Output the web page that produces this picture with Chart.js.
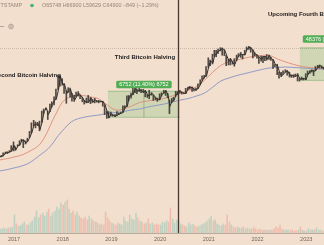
<!DOCTYPE html>
<html><head><meta charset="utf-8">
<script src="https://cdn.jsdelivr.net/npm/chart.js@4.4.1/dist/chart.umd.min.js"></script>
<style>html,body{margin:0;padding:0;background:#f2dfcd;overflow:hidden}#wrap{width:324px;height:245px;position:relative}</style>
</head><body><div id="wrap"><canvas id="c" width="324" height="245"></canvas></div>
<script>
// ---- DATA ----
// semimonthly candles (USD), starting 2016-09-15, then 1st & 15th of each month until 2023-05-15
const firstDate = '2016-09-15';
const lastMonth = '2023-05';
const closes = [
  610,615,640,730,710,750,780,
  1000,820,980,1010,1220,1250,1090,1180,1420,1720,2400,2450,2500,1950,2750,4200,4900,3700,4400,5700,6700,7300,10900,19000,
  13500,13600,9100,10200,10900,8200,6900,8000,9200,8500,7500,6500,6300,6300,7600,6300,7000,6500,6600,6500,6350,5600,4200,3250,
  3800,3600,3450,3600,3800,3900,4100,5100,5300,8000,8500,8800,11800,10200,10400,10300,9600,10300,8300,8400,9200,8500,7400,7100,
  7200,8800,9400,10300,8500,5300,6600,6900,8800,9300,10200,9400,9200,9200,11800,11800,11900,10800,10600,11500,13700,16000,19000,19400,
  29000,36800,33500,48000,49600,56000,59000,63000,57800,46400,36700,40000,33500,31800,39900,47000,48800,48100,48200,61500,66000,63500,57000,48900,
  47300,43100,38700,44500,44400,39700,46300,40500,38500,31300,29800,22600,19300,20800,23300,24100,20100,19700,19300,19100,20500,16900,17000,17300,
  16600,20900,23700,24300,23600,24700,28500,30300,28000,27000
];
const lows = [
  600,605,630,690,705,740,770,
  780,800,960,995,1180,900,1050,1160,1400,1700,2300,2100,2300,1850,2650,3900,4600,3000,4200,5100,5600,7100,10800,12500,
  13000,9200,6000,9600,7800,6600,6500,7900,8200,7300,6400,5800,6100,6250,5900,6200,6100,6300,6100,6350,5300,3700,3150,3200,
  3500,3450,3380,3550,3700,3850,4050,4900,5250,6800,7500,8700,9500,9100,10000,9500,9500,7900,7700,7300,8500,6800,7000,6500,
  6900,8200,9200,8400,7600,3850,6200,6600,8100,8600,9300,8900,9000,9100,10700,11100,10000,10200,10400,11200,13200,15900,17600,19000,
  28000,30000,32300,45000,44000,50500,56500,47000,46000,30000,31000,31000,32000,29300,37500,43900,42800,40000,47500,59000,60000,53500,42000,45500,
  41300,33000,36500,34300,37200,38100,39400,37600,26700,28700,20500,17600,18800,20700,22700,20000,18500,18200,18200,18800,15600,15500,16700,16300,
  16500,20400,21500,22800,19600,24000,27200,27000,26900,25800
];
const highs = [
  625,645,720,745,755,790,980,
  1150,930,1020,1210,1290,1260,1200,1350,1800,2600,2900,2700,2650,2800,4300,4700,4950,4300,5800,6400,7900,11000,19700,19700,
  17200,14000,10300,11700,11500,9200,8500,9700,9900,8600,7800,6800,7500,8400,7700,7100,7400,6800,6750,6600,6550,5650,4300,4200,
  4100,3700,3700,4200,3950,4100,5400,5400,8300,8400,9300,13800,12800,10800,12300,10950,10900,10400,8600,10500,9500,8600,7800,7500,
  9000,9400,10500,10400,9200,6900,7400,7800,10000,9900,10400,9800,9400,11400,12000,12400,12050,11100,11500,13800,16400,19400,19900,29000,
  42000,38000,49000,58000,58000,61000,64800,64000,59500,46500,39500,41000,36000,40500,47000,50500,52900,48500,58000,67000,69000,66000,59000,52000,
  48000,43500,45500,44800,45000,48200,47400,42900,39000,31500,31900,22800,22500,24200,25200,24300,22700,20300,20400,21000,21400,17300,18400,17600,
  21300,23900,24300,25200,24800,29000,30500,30900,29800,28400
];
// volume (thousand BTC, estimated)
const volumes = [
  4,4,5,4,5,5,6,
  18,9,7,7,9,11,8,8,10,12,16,22,15,18,20,17,21,24,17,20,22,26,24,30,
  28,31,33,24,20,22,18,21,17,15,14,16,13,17,14,12,11,10,8,9,8,21,15,12,
  10,9,8,10,9,8,16,12,11,18,14,13,20,15,12,11,9,10,14,9,10,8,9,8,
  8,11,10,12,11,25,14,10,13,12,9,8,7,6,10,8,9,7,6,7,8,9,10,12,
  14,17,12,13,9,8,7,9,8,18,11,8,6,5,6,5,5,6,4,5,4,4,6,4,
  3,4,3,3,3,3,3,3,4,6,5,8,4,3,3,3,3,3,2,2,3,6,3,2,
  2,4,3,3,3,5,3,3,2,2
];
// moving averages
const maDates = ['2016-09-15','2016-11-15','2017-01-01','2017-03-01','2017-05-01','2017-07-01','2017-08-15','2017-09-15','2017-10-15','2017-11-15','2017-12-15','2018-01-15','2018-02-15','2018-04-01','2018-06-01','2018-08-01','2018-10-01','2018-12-01','2019-02-01','2019-04-01','2019-06-01','2019-08-01','2019-10-01','2019-12-01','2020-02-01','2020-04-01','2020-06-01','2020-08-01','2020-10-01','2020-12-01','2021-02-01','2021-04-01','2021-06-01','2021-08-01','2021-10-01','2021-12-01','2022-02-01','2022-04-01','2022-06-01','2022-08-01','2022-10-01','2022-12-01','2023-02-01','2023-04-01','2023-05-20'];
const maRed = [530,565,602,656,779,965,1359,1914,2813,3962,5579,6910,7691,8378,8378,7858,7211,5579,4505,4700,5345,6209,6620,6910,7370,8200,9325,10380,12315,16265,22900,30250,35910,38280,41700,44460,46410,46410,39960,35150,31570,28980,27770,27180,27180];
const maBlue = [331,353,377,410,476,616,746,867,1051,1359,1683,2041,2474,2940,3268,3480,3640,3877,4047,4224,4505,4700,5121,5461,5820,6343,6910,7370,8200,9325,12054,15580,17700,19720,21480,23400,25490,27180,27770,28360,27770,27180,26610,26040,26040];
const yearTicks = [2017,2018,2019,2020,2021,2022,2023];
const header = {exchange:'BITSTAMP', ohlc:'O65748 H66900 L59629 C64900 \u2212849 (\u22121.29%)'};
const lastPrice = 64900;
const halvingDate = '2020-05-11';
const ranges = [
  {from:'2018-12-06', to:'2020-05-29', low:3300, high:10052, label:'6752 (11.40%) 6752', gap:3, center:true},
  {from:'2022-11-14', to:'2023-12-01', low:16000, high:64376, label:'48376 (302.35%) 48376', gap:5, center:false}
];
const notes = [
  {text:'Second Bitcoin Halving', date:'2017-12-18', price:20140, align:'right'},
  {text:'Third Bitcoin Halving', date:'2019-09-09', price:43520, align:'center'},
  {text:'Upcoming Fourth Bitcoin Halving', date:'2022-03-20', price:274200, align:'left'}
];

// ---- helpers ----
function toYear(s){const p=s.split('-').map(Number);const t0=Date.UTC(p[0],0,1),t1=Date.UTC(p[0]+1,0,1);return p[0]+(Date.UTC(p[0],p[1]-1,p[2]||1)-t0)/(t1-t0);}
const dates=[firstDate];
{let [y,m]=firstDate.split('-').map(Number);const [ly,lm]=lastMonth.split('-').map(Number);
 m++; if(m>12){m=1;y++;}
 while(y<ly||(y===ly&&m<=lm)){const mm=String(m).padStart(2,'0');dates.push(y+'-'+mm+'-01');dates.push(y+'-'+mm+'-15');m++;if(m>12){m=1;y++;}}}
const xs=dates.map(toYear);
const pricePts=closes.map((v,i)=>({x:xs[i],y:v}));
const wickPts=lows.map((v,i)=>({x:xs[i],y:[v,highs[i]]}));
const volPts=volumes.map((v,i)=>({x:xs[i],y:v}));
const volColors=closes.map((v,i)=>(i===0||v>=closes[i-1])?'rgba(38,166,154,0.24)':'rgba(239,83,80,0.24)');
const redPts=maRed.map((v,i)=>({x:toYear(maDates[i]),y:v}));
const bluePts=maBlue.map((v,i)=>({x:toYear(maDates[i]),y:v}));

const FONT='"Liberation Sans", Arial, sans-serif';
const BG='#f2dfcd';

const bgPlugin={id:'bg',beforeDraw(c){const g=c.ctx;g.save();g.fillStyle=BG;g.fillRect(0,0,c.width,c.height);g.restore();}};

function rr(g,x,y,w,h,r){g.beginPath();g.moveTo(x+r,y);g.lineTo(x+w-r,y);g.quadraticCurveTo(x+w,y,x+w,y+r);g.lineTo(x+w,y+h-r);g.quadraticCurveTo(x+w,y+h,x+w-r,y+h);g.lineTo(x+r,y+h);g.quadraticCurveTo(x,y+h,x,y+h-r);g.lineTo(x,y+r);g.quadraticCurveTo(x,y,x+r,y);g.closePath();}

const boxPlugin={id:'boxes',beforeDatasetsDraw(c){
  const g=c.ctx,xS=c.scales.x,yS=c.scales.y,a=c.chartArea;
  g.save();g.beginPath();g.rect(a.left,a.top,a.right-a.left,a.bottom-a.top);g.clip();
  const ly=Math.round(yS.getPixelForValue(lastPrice))+0.5;
  g.strokeStyle='rgba(150,130,115,0.4)';g.lineWidth=1;g.setLineDash([1,1]);
  g.beginPath();g.moveTo(a.left,ly);g.lineTo(a.right,ly);g.stroke();g.setLineDash([]);
  ranges.forEach(r=>{
    const x1=xS.getPixelForValue(toYear(r.from)),x2=xS.getPixelForValue(toYear(r.to));
    const y1=yS.getPixelForValue(r.high),y2=yS.getPixelForValue(r.low);
    g.fillStyle='rgba(76,175,80,0.20)';g.fillRect(x1,y1,x2-x1,y2-y1);
    g.strokeStyle='rgba(76,160,80,0.55)';g.lineWidth=0.8;
    g.beginPath();g.moveTo(x1,y1);g.lineTo(x2,y1);g.moveTo(x1,y2);g.lineTo(x2,y2);g.stroke();
    const cx=(x1+x2)/2;
    g.strokeStyle='rgba(90,140,95,0.6)';g.beginPath();g.moveTo(cx,y1);g.lineTo(cx,y2);g.stroke();
  });
  g.restore();
},
afterDatasetsDraw(c){
  const g=c.ctx,xS=c.scales.x,yS=c.scales.y,a=c.chartArea;
  g.save();
  const hx=Math.round(xS.getPixelForValue(toYear(halvingDate)))+0.5;
  g.strokeStyle='#4a3830';g.lineWidth=1.3;g.beginPath();g.moveTo(hx,0);g.lineTo(hx,a.bottom);g.stroke();
  g.font='5.5px '+FONT;g.textBaseline='middle';
  ranges.forEach(r=>{
    const x1=xS.getPixelForValue(toYear(r.from)),x2=xS.getPixelForValue(toYear(r.to));
    const y1=yS.getPixelForValue(r.high);
    const tw=g.measureText(r.label).width+6,h=7.5;
    const lx=r.center?(x1+x2)/2-tw/2:x1+3;
    const ty=y1-r.gap-h;
    g.fillStyle='#52ad55';rr(g,lx,ty,tw,h,1.5);g.fill();
    g.fillStyle='#ffffff';g.textAlign='left';g.fillText(r.label,lx+3,ty+h/2+0.3);
  });
  g.font='bold 6px '+FONT;g.fillStyle='#1c1a19';
  notes.forEach(n=>{g.textAlign=n.align;g.fillText(n.text,xS.getPixelForValue(toYear(n.date)),yS.getPixelForValue(n.price));});
  g.font='5.4px '+FONT;g.textBaseline='middle';g.fillStyle='#93867c';
  g.textAlign='right';g.fillText(header.exchange,22,5.5);
  g.fillStyle='#3cb371';g.beginPath();g.arc(32,5.5,1.8,0,Math.PI*2);g.fill();
  g.fillStyle='#93867c';g.textAlign='left';g.fillText(header.ohlc,42,5.5);
  g.strokeStyle='#a3968c';g.lineWidth=0.8;g.beginPath();g.moveTo(0,26.5);g.lineTo(4,26.5);g.stroke();
  g.beginPath();g.arc(11,26.5,2.4,0,Math.PI*2);g.stroke();
  g.beginPath();g.arc(11,26.5,1,0,Math.PI*2);g.stroke();
  g.restore();
}};

new Chart(document.getElementById('c'),{
  data:{datasets:[
    {type:'line',label:'price',data:pricePts,borderColor:'#352f2b',borderWidth:1,pointRadius:0,tension:0,yAxisID:'y',order:1},
    {type:'bar',label:'wicks',data:wickPts,backgroundColor:'rgba(53,47,43,0.85)',borderWidth:0,barThickness:1,yAxisID:'y',order:0},
    {type:'line',label:'ma1',data:redPts,borderColor:'#df8b79',borderWidth:0.9,pointRadius:0,tension:0.35,yAxisID:'y',order:2},
    {type:'line',label:'ma2',data:bluePts,borderColor:'#8693c4',borderWidth:0.9,pointRadius:0,tension:0.35,yAxisID:'y',order:3},
    {type:'bar',label:'vol',data:volPts,backgroundColor:volColors,borderWidth:0,barPercentage:1,categoryPercentage:1,yAxisID:'vol',order:10}
  ]},
  options:{
    responsive:false,animation:false,devicePixelRatio:1,
    layout:{padding:0},
    plugins:{legend:{display:false},tooltip:{enabled:false}},
    scales:{
      x:{type:'linear',offset:false,min:2016.7125,max:2023.3655,
        afterBuildTicks:s=>{s.ticks=yearTicks.map(v=>({value:v}));},
        afterFit:s=>{s.height=12;},
        ticks:{callback:v=>String(v),font:{family:FONT,size:5.5},color:'#70665e',padding:3,maxRotation:0,autoSkip:false},
        grid:{display:false,drawTicks:false,offset:false},
        border:{display:true,color:'#b8aa9c',width:1}},
      y:{type:'logarithmic',display:false,min:23.3,max:499000},
      vol:{type:'linear',display:false,min:0,max:233}
    }
  },
  plugins:[bgPlugin,boxPlugin]
});
</script></body></html>
